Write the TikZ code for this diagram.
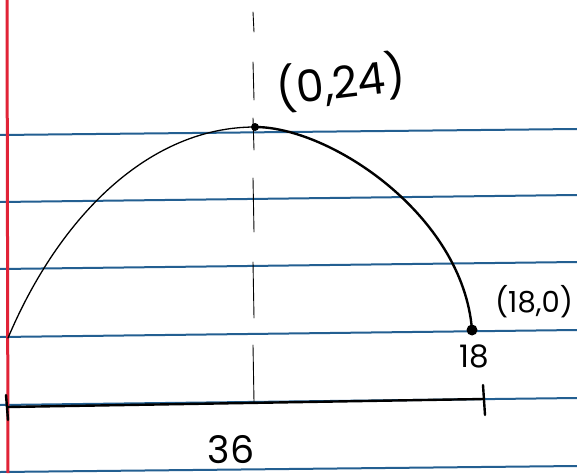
\documentclass[tikz,border=0pt]{standalone}
\usepackage{fontspec}
\setmainfont{Poppins}
\definecolor{ruleblue}{RGB}{35,95,145}
\definecolor{marginred}{RGB}{225,35,55}
\tikzset{
  rule/.style={ruleblue, line width=2pt},
  margin/.style={marginred, line width=3pt},
  ink/.style={black, line width=1.3pt, line cap=round, line join=round},
  thickink/.style={black, line width=2.4pt, line cap=round, line join=round},
  sym/.style={black, line width=0.9pt, line cap=round},
  dotnode/.style={circle, fill=black, inner sep=0pt},
  lbl/.style={inner sep=0pt, text=black}
}
\begin{document}
\begin{tikzpicture}[x=1pt,y=-1pt]
\useasboundingbox (0,0) rectangle (577,473);
\fill[white] (0,0) rectangle (577,473);
% ruled lines
\foreach \a/\b in {135/129, 202/195, 269/262, 337/330, 405/398, 472/466}
  \draw[rule] (0,\a) -- (577,\b);
% margin
\draw[margin] (7,0) -- (8,473);
% symmetry axis (dashed, hand drawn)
\foreach \s/\e in {12/32, 62/100, 118/150, 178/232, 262/318, 345/402}
  \draw[sym] (253,\s) -- (254,\e);
% nodes
\node[dotnode, minimum size=8pt] (V) at (255,127) {};
\node[dotnode, minimum size=11pt] (E) at (472,330) {};
\coordinate (S) at (8,338);
% parabola
\draw[ink] (S) .. controls (60,215) and (150,127) .. (V.center);
\draw[thickink] (V.center) .. controls (330,127) and (463,215) .. (E.center);
% width segment
\coordinate (L) at (8,407);
\coordinate (R) at (484,399);
\draw[thickink] (L) -- (R);
\draw[thickink] (6,395) -- (8,420);
\draw[thickink] (483,385) -- (485,415);
% labels
\node[lbl, font=\fontsize{44}{44}\selectfont, rotate=7] (tV) at (341,82) {(0,24)};
\node[lbl, font=\fontsize{29}{29}\selectfont] (tE) at (534,302) {(18,0)};
\node[lbl, font=\fontsize{31}{31}\selectfont] (t18) at (474,356) {18};
\node[lbl, font=\fontsize{38}{38}\selectfont] (t36) at (231,450) {36};
\end{tikzpicture}
\end{document}
